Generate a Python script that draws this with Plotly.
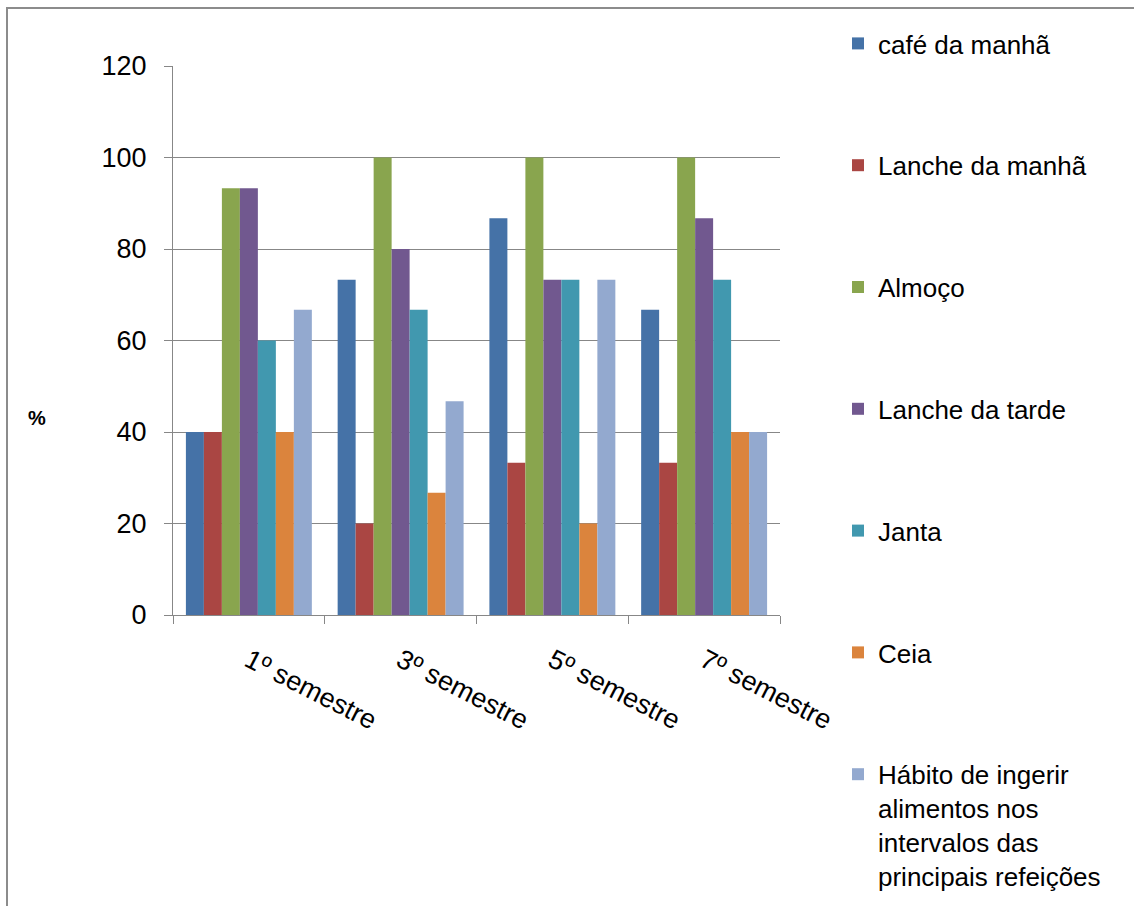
import plotly.graph_objects as go

# Semesters on the category axis
semestres = ["1º semestre", "3º semestre", "5º semestre", "7º semestre"]

# Percentage of students having each meal, per semester
cafe_da_manha = [40.0, 73.3, 86.7, 66.7]
lanche_da_manha = [40.0, 20.0, 33.3, 33.3]
almoco = [93.3, 100.0, 100.0, 100.0]
lanche_da_tarde = [93.3, 80.0, 73.3, 86.7]
janta = [60.0, 66.7, 73.3, 73.3]
ceia = [40.0, 26.7, 20.0, 40.0]
habito_intervalos = [66.7, 46.7, 73.3, 40.0]

y_ticks = [0, 20, 40, 60, 80, 100, 120]

series = [
    ("café da manhã", cafe_da_manha, "#4572A7"),
    ("Lanche da manhã", lanche_da_manha, "#AA4643"),
    ("Almoço", almoco, "#89A54E"),
    ("Lanche da tarde", lanche_da_tarde, "#71588F"),
    ("Janta", janta, "#4198AF"),
    ("Ceia", ceia, "#DB843D"),
    ("Hábito de ingerir<br>alimentos nos<br>intervalos das<br>principais refeições",
     habito_intervalos, "#93A9CF"),
]

FONT = "Liberation Sans, Arial, sans-serif"
GRID = "#878787"

fig = go.Figure()
for i, (name, vals, color) in enumerate(series):
    fig.add_trace(go.Bar(
        x=semestres, y=vals, name=name,
        marker=dict(color=color, line=dict(width=0)),
        legendgroup=f"g{i}",
    ))

W, H = 1134, 906
L, R, T, B = 173, 354, 66, 291
pw, ph = W - L - R, H - T - B

fig.update_layout(
    width=W, height=H,
    margin=dict(l=L, r=R, t=T, b=B, autoexpand=False),
    paper_bgcolor="white", plot_bgcolor="white",
    barmode="group", bargap=0.17, bargroupgap=0,
    font=dict(family=FONT, color="black"),
    legend=dict(
        xref="container", yref="container",
        x=838 / W, xanchor="left",
        y=1 - 20 / H, yanchor="top",
        maxheight=H, valign="top",
        font=dict(family=FONT, size=26, color="black"),
        tracegroupgap=85, itemwidth=30,
        bgcolor="rgba(0,0,0,0)",
    ),
    xaxis=dict(
        type="category",
        showline=True, linecolor=GRID, linewidth=1,
        ticks="outside", ticklen=8, tickcolor=GRID, tickson="boundaries",
        tickangle=27, ticklabelstandoff=18,
        tickfont=dict(family=FONT, size=27, color="black"),
        showgrid=False,
    ),
    yaxis=dict(
        range=[0, 120], tickvals=y_ticks,
        showline=True, linecolor=GRID, linewidth=1,
        ticks="outside", ticklen=8, tickcolor=GRID, ticklabelstandoff=12,
        tickfont=dict(family=FONT, size=27, color="black"),
        showgrid=True, gridcolor=GRID, gridwidth=1, zeroline=False,
    ),
    annotations=[dict(
        text="<b>%</b>", xref="paper", yref="paper",
        x=(37 - L) / pw, y=(T + ph - 418) / ph,
        xanchor="center", yanchor="middle", showarrow=False,
        font=dict(family=FONT, size=20, color="black"),
    )],
    shapes=[dict(
        type="rect", xref="paper", yref="paper",
        x0=(7 - L) / pw, x1=(W + 20 - L) / pw,
        y0=(T + ph - (H + 20)) / ph, y1=(T + ph - 8) / ph,
        line=dict(color="#8c8c8c", width=2), fillcolor="rgba(0,0,0,0)",
        layer="below",
    )],
)

fig.write_html("out.html")
